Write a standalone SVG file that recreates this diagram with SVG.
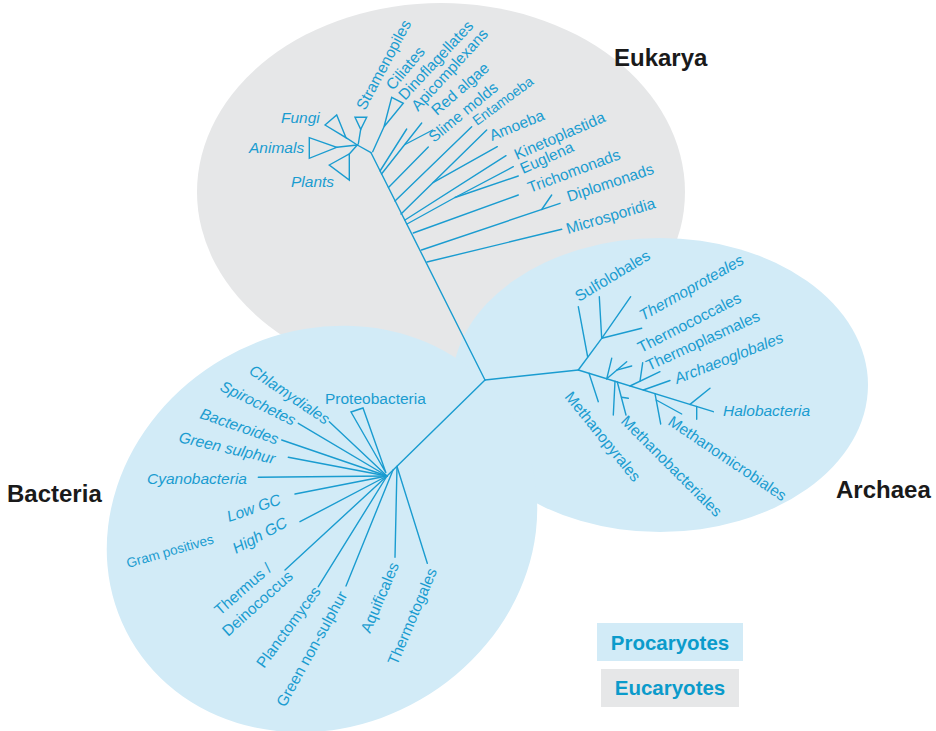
<svg xmlns="http://www.w3.org/2000/svg" width="936" height="731" viewBox="0 0 936 731">
  <style>
    .br { fill: none; stroke: #1a9cd0; stroke-width: 1.4; stroke-linecap: round; stroke-linejoin: round; }
    .tri { fill: none; stroke: #1a9cd0; stroke-width: 1.4; stroke-linejoin: miter; }
    .lb { font-family: "Liberation Sans", Arial, sans-serif; font-size: 15.5px; fill: #1a9cd0; }
    .it { font-style: italic; }
    .sm { font-size: 14px; }
    .xs { font-size: 13.5px; }
    .dom { font-family: "Liberation Sans", Arial, sans-serif; font-size: 24px; font-weight: bold; fill: #1a1a1a; }
    .leg { font-family: "Liberation Sans", Arial, sans-serif; font-size: 20.5px; font-weight: bold; fill: #0b9bcb; text-anchor: middle; }
  </style>

  <!-- domain backgrounds -->
  <g id="areas">
    <ellipse id="area-eukarya" cx="441" cy="192" rx="244" ry="189" fill="#e6e7e8"/>
    <ellipse id="area-archaea" cx="660" cy="385" rx="208" ry="147" fill="#d2ebf7"/>
    <ellipse id="area-bacteria" cx="322" cy="529" rx="221" ry="197" transform="rotate(-30 322 529)" fill="#d2ebf7"/>
  </g>

  <!-- branches of the tree -->
  <g id="connectors" class="br">
    <!-- root to the three domains -->
    <path d="M485,380 L371,152.7"/>
    <path d="M485,380 L578.3,370"/>
    <path d="M485,380 L387,476"/>

    <!-- Eukarya -->
    <path d="M371,152.7 L357.3,145"/>
    <path d="M357.3,145 L346,137.7"/>
    <path d="M357.3,145 L336.7,147.3"/>
    <path d="M357.3,145 L349.3,154"/>
    <path d="M358.3,144 L360.7,129.3"/>
    <path d="M372.7,151.7 L384,126.7"/>
    <path d="M380,171 L406.7,129"/>
    <path d="M381.5,174 L421.7,123"/>
    <path d="M405,144.5 L432.7,130"/>
    <path d="M388.5,187.5 L428.3,147"/>
    <path d="M395,201 L471.7,126.7"/>
    <path d="M401,214 L486.7,130"/>
    <path d="M433,182.6 L497.3,146.7"/>
    <path d="M405,220 L506,155.7"/>
    <path d="M407,224 L455,197.5 L513.3,166.7"/>
    <path d="M455,197.5 L518.3,176"/>
    <path d="M413.3,233 L518.3,195"/>
    <path d="M421.5,250 L560,203.3"/>
    <path d="M541.7,209.5 L551.7,195"/>
    <path d="M427,262 L561.7,229.3"/>

    <!-- Archaea -->
    <path d="M578.3,370 L601.7,338.3"/>
    <path d="M587.7,357 L578.3,306.7"/>
    <path d="M601.7,338.3 L599.3,296.7"/>
    <path d="M601.7,338.3 L630.7,296.7"/>
    <path d="M601.7,338.3 L641.7,328.3"/>
    <path d="M578.3,370 L713.3,411.7"/>
    <path d="M589,373.3 L598.3,401.7"/>
    <path d="M606.7,378.8 L611.7,358.3"/>
    <path d="M606.7,378.8 L626.7,361.7"/>
    <path d="M616.7,370.2 L631.7,366"/>
    <path d="M630,386 L660,371.7"/>
    <path d="M640,381.2 L642.7,362.7"/>
    <path d="M643.3,390 L670,380.5"/>
    <path d="M615,381.3 L613.3,415"/>
    <path d="M617.3,382 L626,415"/>
    <path d="M621.7,397.3 L628.3,398.3"/>
    <path d="M655,393.6 L660.7,424"/>
    <path d="M656.2,400 L681.7,414"/>
    <path d="M690,404.4 L710,388.3"/>
    <path d="M696.7,406.5 L696.7,419.3"/>

    <!-- Bacteria -->
    <path d="M387,476 L329.3,421.7"/>
    <path d="M387,476 L298.3,423.3"/>
    <path d="M387,476 L281.7,440"/>
    <path d="M387,476 L288.3,457.3"/>
    <path d="M387,476 L258.3,477.3"/>
    <path d="M387,476 L295,494"/>
    <path d="M387,476 L300,521.7"/>
    <path d="M387,476 L285,570"/>
    <path d="M387,476 L318.3,586.7"/>
    <path d="M393,470 L346,586"/>
    <path d="M397,466.5 L395,557.3"/>
    <path d="M397,466.5 L427.3,563.3"/>
  </g>

  <!-- Eukarya taxa -->
  <g id="fungi"><path class="tri" d="M325,125 L336.7,115 L346,137.7 Z"/><text class="lb it" x="281" y="122.5">Fungi</text></g>
  <g id="animals"><path class="tri" d="M309.3,137.7 L309.3,158.3 L336.7,147.3 Z"/><text class="lb it" x="249" y="153">Animals</text></g>
  <g id="plants"><path class="tri" d="M329.3,165 L349.3,154 L349.3,180 Z"/><text class="lb it" x="291" y="187">Plants</text></g>
  <g id="stramenopiles"><path class="tri" d="M355,117.3 L366.7,117.3 L360.7,129.3 Z"/><text class="lb" transform="translate(365,111) rotate(-62)">Stramenopiles</text></g>
  <g id="ciliates"><path class="tri" d="M391.7,97.3 L403.3,103.3 L384,126.7 Z"/><text class="lb" transform="translate(393,91) rotate(-50)">Ciliates</text></g>
  <g id="dinoflagellates"><text class="lb" transform="translate(405,101) rotate(-47)">Dinoflagellates</text></g>
  <g id="apicomplexans"><text class="lb" transform="translate(418,112) rotate(-47.5)">Apicomplexans</text></g>
  <g id="red-algae"><text class="lb" transform="translate(437,116) rotate(-41)">Red algae</text></g>
  <g id="slime-molds"><text class="lb" transform="translate(434,143) rotate(-39.5)">Slime molds</text></g>
  <g id="entamoeba"><text class="lb sm" transform="translate(477,126) rotate(-36.5)">Entamoeba</text></g>
  <g id="amoeba"><text class="lb" transform="translate(492,141) rotate(-22)">Amoeba</text></g>
  <g id="kinetoplastida"><text class="lb" transform="translate(517,160) rotate(-23.5)">Kinetoplastida</text></g>
  <g id="euglena"><text class="lb" transform="translate(523,174) rotate(-24)">Euglena</text></g>
  <g id="trichomonads"><text class="lb" transform="translate(530,193) rotate(-20.5)">Trichomonads</text></g>
  <g id="diplomonads"><text class="lb" transform="translate(569,202) rotate(-18.5)">Diplomonads</text></g>
  <g id="microsporidia"><text class="lb" transform="translate(568,234) rotate(-16.5)">Microsporidia</text></g>

  <!-- Archaea taxa -->
  <g id="sulfolobales"><text class="lb" transform="translate(579,302) rotate(-31)">Sulfolobales</text></g>
  <g id="thermoproteales"><text class="lb it" transform="translate(643,321) rotate(-29.5)">Thermoproteales</text></g>
  <g id="thermococcales"><text class="lb" transform="translate(641,353) rotate(-27)">Thermococcales</text></g>
  <g id="thermoplasmales"><text class="lb" transform="translate(649,371) rotate(-24.5)">Thermoplasmales</text></g>
  <g id="archaeoglobales"><text class="lb it" transform="translate(677,384) rotate(-21.5)">Archaeoglobales</text></g>
  <g id="halobacteria"><text class="lb it" x="723" y="416">Halobacteria</text></g>
  <g id="methanopyrales"><text class="lb" transform="translate(564,397) rotate(51)">Methanopyrales</text></g>
  <g id="methanobacteriales"><text class="lb" transform="translate(620,422) rotate(45)">Methanobacteriales</text></g>
  <g id="methanomicrobiales"><text class="lb" transform="translate(667,424) rotate(34)">Methanomicrobiales</text></g>

  <!-- Bacteria taxa -->
  <g id="proteobacteria"><path class="tri" d="M351,412 L363,408 L386,473 Z"/><text class="lb" x="325" y="404">Proteobacteria</text></g>
  <g id="chlamydiales"><text class="lb it" transform="translate(248,373) rotate(34)">Chlamydiales</text></g>
  <g id="spirochetes"><text class="lb it" transform="translate(219,390) rotate(26)">Spirochetes</text></g>
  <g id="bacteroides"><text class="lb it" transform="translate(199,418) rotate(19)">Bacteroides</text></g>
  <g id="green-sulphur"><text class="lb it" transform="translate(178,442) rotate(13)">Green sulphur</text></g>
  <g id="cyanobacteria"><text class="lb it" x="147" y="484">Cyanobacteria</text></g>
  <g id="low-gc"><text class="lb it" transform="translate(229,522) rotate(-19)">Low GC</text></g>
  <g id="high-gc"><text class="lb it" transform="translate(236,554) rotate(-28)">High GC</text></g>
  <g id="gram-positives"><text class="lb xs" transform="translate(128,568) rotate(-16)">Gram positives</text></g>
  <g id="thermus"><text class="lb" transform="translate(220,616) rotate(-41)">Thermus /</text><text class="lb" transform="translate(228,637) rotate(-42)">Deinococcus</text></g>
  <g id="planctomyces"><text class="lb" transform="translate(264,669) rotate(-53.5)">Planctomyces</text></g>
  <g id="green-non-sulphur"><text class="lb" transform="translate(285,708) rotate(-61)">Green non-sulphur</text></g>
  <g id="aquificales"><text class="lb" transform="translate(370,634) rotate(-67)">Aquificales</text></g>
  <g id="thermotogales"><text class="lb" transform="translate(397,666) rotate(-67)">Thermotogales</text></g>

  <!-- domain names -->
  <g id="domain-eukarya"><text class="dom" x="614" y="66">Eukarya</text></g>
  <g id="domain-archaea"><text class="dom" x="836" y="498">Archaea</text></g>
  <g id="domain-bacteria"><text class="dom" x="7" y="502">Bacteria</text></g>

  <!-- key -->
  <g id="key-procaryotes"><rect x="597" y="623" width="146" height="38" fill="#d2ebf7"/><text class="leg" x="670" y="650">Procaryotes</text></g>
  <g id="key-eucaryotes"><rect x="601" y="669" width="138" height="38" fill="#e6e7e8"/><text class="leg" x="670" y="695">Eucaryotes</text></g>
</svg>
